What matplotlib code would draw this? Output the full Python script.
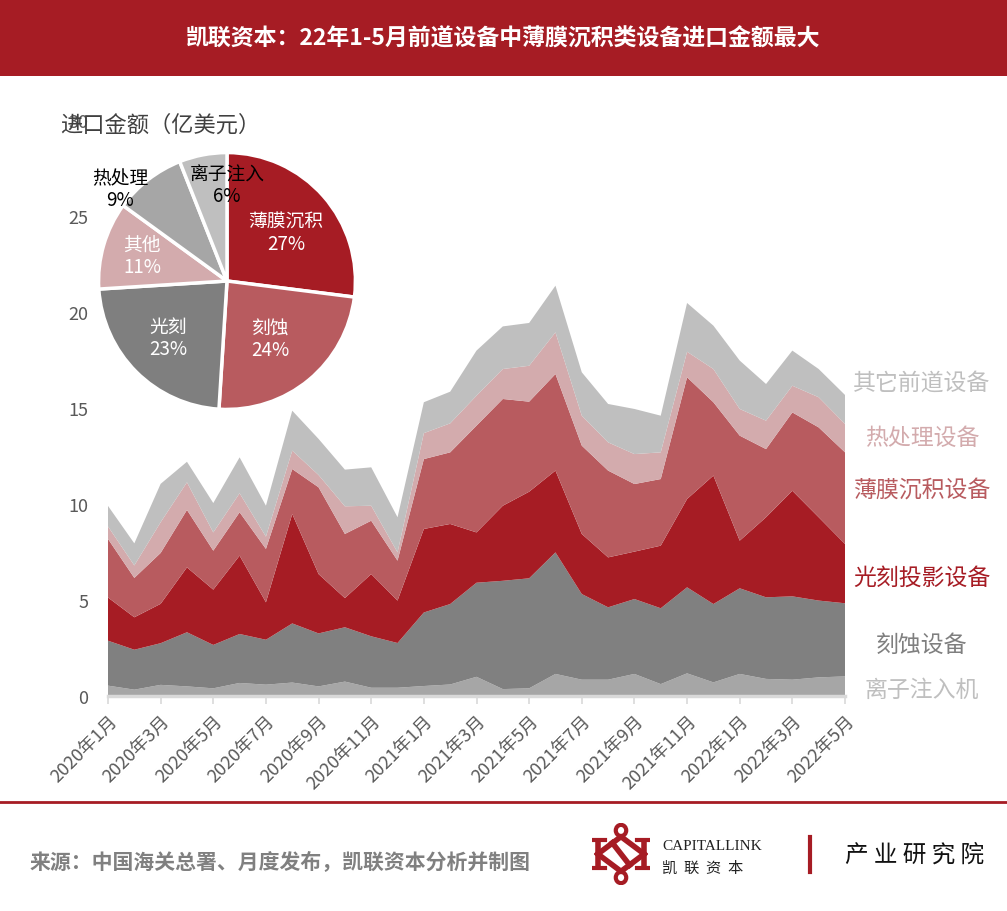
import matplotlib
matplotlib.use('Agg')
import matplotlib.pyplot as plt
from matplotlib.patches import Rectangle, Circle
from matplotlib.lines import Line2D
import numpy as np

plt.rcParams['font.family'] = ['Noto Sans CJK SC', 'DejaVu Sans']

# months 2020-01 .. 2022-05
months = ['2020年1月', '2020年2月', '2020年3月', '2020年4月', '2020年5月', '2020年6月',
          '2020年7月', '2020年8月', '2020年9月', '2020年10月', '2020年11月', '2020年12月',
          '2021年1月', '2021年2月', '2021年3月', '2021年4月', '2021年5月', '2021年6月',
          '2021年7月', '2021年8月', '2021年9月', '2021年10月', '2021年11月', '2021年12月',
          '2022年1月', '2022年2月', '2022年3月', '2022年4月', '2022年5月']

# import values per category (亿美元), bottom to top of the stack
ion = [0.54, 0.33, 0.58, 0.50, 0.40, 0.68, 0.59, 0.70, 0.50, 0.75, 0.43, 0.43, 0.52, 0.60, 1.00,
       0.36, 0.40, 1.15, 0.85, 0.85, 1.15, 0.62, 1.18, 0.71, 1.15, 0.89, 0.85, 0.97, 1.02]
etch = [2.34, 2.08, 2.17, 2.82, 2.26, 2.55, 2.34, 3.08, 2.76, 2.83, 2.68, 2.33, 3.83, 4.19, 4.90,
        5.64, 5.73, 6.33, 4.46, 3.77, 3.90, 3.95, 4.48, 4.08, 4.46, 4.25, 4.34, 4.00, 3.81]
litho = [2.25, 1.69, 2.05, 3.38, 2.88, 4.08, 1.95, 5.70, 3.09, 1.52, 3.24, 2.21, 4.35, 4.17, 2.62,
         3.91, 4.51, 4.26, 3.13, 2.60, 2.47, 3.26, 4.60, 6.69, 2.48, 4.17, 5.50, 4.34, 3.09]
film = [3.05, 2.05, 2.65, 2.99, 2.03, 2.26, 2.78, 2.34, 4.52, 3.34, 2.78, 2.08, 3.64, 3.73, 5.56,
        5.56, 4.69, 5.03, 4.60, 4.52, 3.52, 3.47, 6.34, 3.82, 5.47, 3.55, 4.08, 4.68, 4.77]
heat = [0.65, 0.65, 1.60, 1.44, 0.95, 0.99, 0.64, 0.96, 0.64, 1.44, 0.78, 0.43, 1.35, 1.51, 1.56,
        1.56, 1.87, 2.17, 1.56, 1.47, 1.56, 1.39, 1.33, 1.73, 1.39, 1.48, 1.39, 1.57, 1.48]
other = [1.07, 1.15, 2.00, 1.07, 1.53, 1.87, 1.61, 2.08, 1.88, 1.91, 2.00, 1.83, 1.61, 1.65, 2.35,
         2.22, 2.23, 2.43, 2.26, 2.00, 2.35, 1.91, 2.54, 2.26, 2.52, 1.91, 1.83, 1.47, 1.51]

series_names = ['离子注入机', '刻蚀设备', '光刻投影设备', '薄膜沉积设备', '热处理设备', '其它前道设备']
series_colors = ['#A6A6A6', '#808080', '#A61C24', '#B85B5F', '#D3ABAD', '#BFBFBF']
label_colors = ['#BFBFBF', '#7F7F7F', '#A61C24', '#B85B5F', '#D3ABAD', '#BFBFBF']

# pie: share of 22年1-5月
pie_labels = ['薄膜沉积', '刻蚀', '光刻', '其他', '热处理', '离子注入']
pie_share = [27, 24, 23, 11, 9, 6]
pie_colors = ['#A61C24', '#B85B5F', '#7F7F7F', '#D3ABAD', '#A6A6A6', '#BFBFBF']
pie_text_colors = ['white', 'white', 'white', 'white', 'black', 'black']

RED = '#A61C24'
W, H = 1007, 912
fig = plt.figure(figsize=(W / 100, H / 100), dpi=100)

# title band
fig.patches.append(Rectangle((0, 1 - 77 / H), 1, 77 / H, transform=fig.transFigure,
                             facecolor=RED, edgecolor='none', zorder=0))
fig.text(0.5, 1 - 39 / H, '凯联资本：22年1-5月前道设备中薄膜沉积类设备进口金额最大',
         ha='center', va='center', color='white', fontsize=16.5, fontweight='bold')

# main stacked area
ax = fig.add_axes([108 / W, 1 - 697 / H, (845 - 108) / W, (697 - 121) / H])
x = np.arange(len(months))
ax.stackplot(x, ion, etch, litho, film, heat, other, colors=series_colors, linewidth=0)
ax.set_xlim(0, len(months) - 1)
ax.set_ylim(0, 30)
ax.set_yticks(range(0, 31, 5))
ax.set_xticks(x[::2])
ax.set_xticklabels(months[::2], rotation=45, ha='right', va='top', rotation_mode='anchor',
                   fontsize=13, color='#595959')
ax.tick_params(axis='y', length=0, labelsize=13, labelcolor='#595959', pad=14)
ax.tick_params(axis='x', length=6, color='#D9D9D9', width=1.2, pad=5)
for s in ['top', 'right', 'left']:
    ax.spines[s].set_visible(False)
ax.spines['bottom'].set_color('#D9D9D9')
ax.spines['bottom'].set_linewidth(2.5)
ax.patch.set_alpha(0)

fig.text(60 / W, 1 - 125 / H, '进口金额（亿美元）', ha='left', va='center',
         fontsize=16, color='#404040')

# right-side series labels
label_y = [690, 645, 578, 491, 438, 383]
for name, col, py in zip(series_names, label_colors, label_y):
    fig.text(922 / W, 1 - py / H, name, ha='center', va='center', fontsize=16.5, color=col)

# pie
pax = fig.add_axes([(227 - 131) / W, 1 - (282 + 131) / H, 262 / W, 262 / H])
wedges, _ = pax.pie(pie_share, colors=pie_colors, startangle=90, counterclock=False,
                    wedgeprops=dict(edgecolor='white', linewidth=2.5), radius=1.0)
pax.set_xlim(-1.02, 1.02)
pax.set_ylim(-1.02, 1.02)
pax.set_aspect('equal')
pax.axis('off')
pie_pos = [(0.46, 0.38), (0.34, -0.45), (-0.46, -0.44), (-0.66, 0.20), (-0.83, 0.72), (0.0, 0.75)]
for lab, val, tc, (px, py) in zip(pie_labels, pie_share, pie_text_colors, pie_pos):
    pax.text(px, py, f'{lab}\n{val}%', ha='center', va='center', color=tc,
             fontsize=13.5, linespacing=1.05)

# footer
fig.add_artist(Line2D([0, 1], [1 - 803 / H, 1 - 803 / H], transform=fig.transFigure,
                      color=RED, linewidth=2))
fig.text(30 / W, 1 - 862 / H, '来源：中国海关总署、月度发布，凯联资本分析并制图',
         ha='left', va='center', fontsize=15, fontweight='bold', color='#808080')

# logo mark
lax = fig.add_axes([592 / W, 1 - 886 / H, 58 / W, 62 / H])
lax.set_xlim(0, 1)
lax.set_ylim(0, 1)
lax.axis('off')
lw = 4
lax.plot([0.1, 0.1], [0.28, 0.72], color=RED, lw=lw, solid_capstyle='butt')
lax.plot([0.9, 0.9], [0.28, 0.72], color=RED, lw=lw, solid_capstyle='butt')
lax.plot([0.02, 0.22], [0.72, 0.72], color=RED, lw=3)
lax.plot([0.02, 0.22], [0.28, 0.28], color=RED, lw=3)
lax.plot([0.78, 0.98], [0.72, 0.72], color=RED, lw=3)
lax.plot([0.78, 0.98], [0.28, 0.28], color=RED, lw=3)
lax.plot([0.1, 0.5, 0.9], [0.5, 0.78, 0.5], color=RED, lw=lw)
lax.plot([0.1, 0.5, 0.9], [0.5, 0.22, 0.5], color=RED, lw=lw)
lax.plot([0.35, 0.65], [0.68, 0.32], color=RED, lw=lw)
lax.add_patch(Circle((0.5, 0.88), 0.09, facecolor='none', edgecolor=RED, lw=3))
lax.add_patch(Circle((0.5, 0.12), 0.09, facecolor='none', edgecolor=RED, lw=3))

fig.text(662 / W, 1 - 846 / H, 'CAPITALLINK', ha='left', va='center', fontsize=11,
         family='Liberation Serif', color='#222222')
fig.text(662 / W, 1 - 868 / H, '凯  联  资  本', ha='left', va='center', fontsize=11,
         color='#222222')
fig.add_artist(Line2D([810 / W, 810 / W], [1 - 838 / H, 1 - 873 / H], transform=fig.transFigure,
                      color=RED, linewidth=3))
fig.text(845 / W, 1 - 855 / H, '产 业 研 究 院', ha='left', va='center', fontsize=17,
         color='#111111')

fig.savefig('out.png', dpi=100)
